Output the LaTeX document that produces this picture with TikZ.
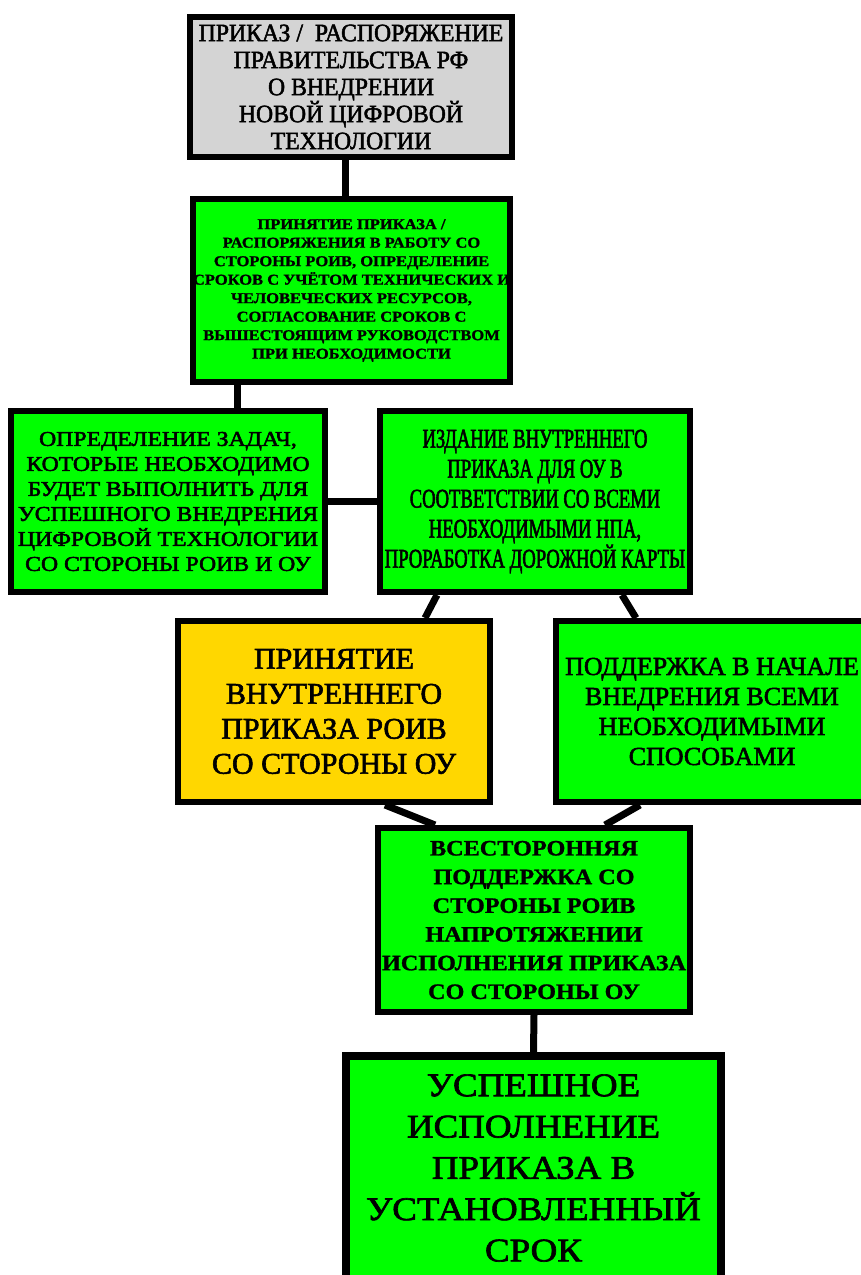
\documentclass[tikz,border=0pt]{standalone}
\usepackage{fontspec}
\setmainfont{Liberation Serif}
\newfontfamily\headserif[FakeStretch=0.95,FakeBold=2]{Liberation Serif}
\newfontfamily\wideserif[FakeStretch=1.1,FakeBold=1.2]{Liberation Serif}
\newfontfamily\taskserif[FakeStretch=1.13,FakeBold=2.5]{Liberation Serif}
\newfontfamily\tightserif[FakeStretch=0.69,FakeBold=2]{Liberation Serif}
\newfontfamily\plainserif[FakeBold=2]{Liberation Serif}
\newfontfamily\broadserif[FakeStretch=1.12,FakeBold=2]{Liberation Serif}
\definecolor{greybox}{HTML}{D4D4D4}
\definecolor{greenbox}{HTML}{00FF00}
\definecolor{yellowbox}{HTML}{FFD700}
\begin{document}
\begin{tikzpicture}[
  x=1pt, y=-1pt,
  box/.style={draw, line width=6pt, fill=greenbox, align=center, inner sep=0pt,
    minimum width=312pt, minimum height=181pt},
  link/.style={line width=7pt}
]
  \useasboundingbox (0,0) rectangle (860,1275);
  \node[box, fill=greybox, minimum width=322pt, minimum height=140pt,
    font=\fontsize{25}{27}\headserif] (order) at (351,87)
    {ПРИКАЗ /\ \ РАСПОРЯЖЕНИЕ\\ПРАВИТЕЛЬСТВА РФ\\О ВНЕДРЕНИИ\\НОВОЙ ЦИФРОВОЙ\\ТЕХНОЛОГИИ};
  \node[box, minimum width=311pt, minimum height=183pt,
    font=\fontsize{15}{18.5}\wideserif\bfseries] (accept) at (351.5,290.5)
    {ПРИНЯТИЕ ПРИКАЗА /\\РАСПОРЯЖЕНИЯ В РАБОТУ СО\\СТОРОНЫ РОИВ, ОПРЕДЕЛЕНИЕ\\СРОКОВ С УЧЁТОМ ТЕХНИЧЕСКИХ И\\ЧЕЛОВЕЧЕСКИХ РЕСУРСОВ,\\СОГЛАСОВАНИЕ СРОКОВ С\\ВЫШЕСТОЯЩИМ РУКОВОДСТВОМ\\ПРИ НЕОБХОДИМОСТИ};
  \node[box, minimum width=314pt,
    font=\fontsize{21}{25}\taskserif] (tasks) at (168,501.5)
    {ОПРЕДЕЛЕНИЕ ЗАДАЧ,\\КОТОРЫЕ НЕОБХОДИМО\\БУДЕТ ВЫПОЛНИТЬ ДЛЯ\\УСПЕШНОГО ВНЕДРЕНИЯ\\ЦИФРОВОЙ ТЕХНОЛОГИИ\\СО СТОРОНЫ РОИВ И ОУ};
  \node[box, minimum width=310pt,
    font=\fontsize{27}{30}\tightserif] (issue) at (535,501.5)
    {ИЗДАНИЕ ВНУТРЕННЕГО\\ПРИКАЗА ДЛЯ ОУ В\\СООТВЕТСТВИИ СО ВСЕМИ\\НЕОБХОДИМЫМИ НПА,\\ПРОРАБОТКА ДОРОЖНОЙ КАРТЫ};
  \node[box, fill=yellowbox,
    font=\fontsize{30}{35}\plainserif] (adopt) at (334,711.5)
    {ПРИНЯТИЕ\\ВНУТРЕННЕГО\\ПРИКАЗА РОИВ\\СО СТОРОНЫ ОУ};
  \node[box,
    font=\fontsize{26}{30}\plainserif] (support) at (712,711.5)
    {ПОДДЕРЖКА В НАЧАЛЕ\\ВНЕДРЕНИЯ ВСЕМИ\\НЕОБХОДИМЫМИ\\СПОСОБАМИ};
  \node[box, minimum height=184pt,
    font=\fontsize{22}{28.7}\wideserif\bfseries] (backing) at (534,920)
    {ВСЕСТОРОННЯЯ\\ПОДДЕРЖКА СО\\СТОРОНЫ РОИВ\\НАПРОТЯЖЕНИИ\\ИСПОЛНЕНИЯ ПРИКАЗА\\СО СТОРОНЫ ОУ};
  \node[box, line width=8pt, minimum width=375pt, minimum height=224pt,
    font=\fontsize{33}{41.3}\broadserif] (done) at (533.5,1168)
    {УСПЕШНОЕ\\ИСПОЛНЕНИЕ\\ПРИКАЗА В\\УСТАНОВЛЕННЫЙ\\СРОК};

  \draw[link] ([xshift=-6pt]order.south) -- ([xshift=-6pt]order.south |- accept.north);
  \draw[link] ([xshift=-114pt]accept.south) -- ([xshift=-114pt]accept.south |- tasks.north);
  \draw[link] (tasks.east) -- (issue.west);
  \draw[link] ([xshift=-98pt]issue.south) -- ([xshift=91pt]adopt.north);
  \draw[link] ([xshift=87pt]issue.south) -- ([xshift=-76pt]support.north);
  \draw[link] ([xshift=51pt]adopt.south) -- ([xshift=-99pt]backing.north);
  \draw[link] ([xshift=-72pt]support.south) -- ([xshift=71pt]backing.north);
  \draw[link] (backing.south) -- (done.north);
\end{tikzpicture}
\end{document}
